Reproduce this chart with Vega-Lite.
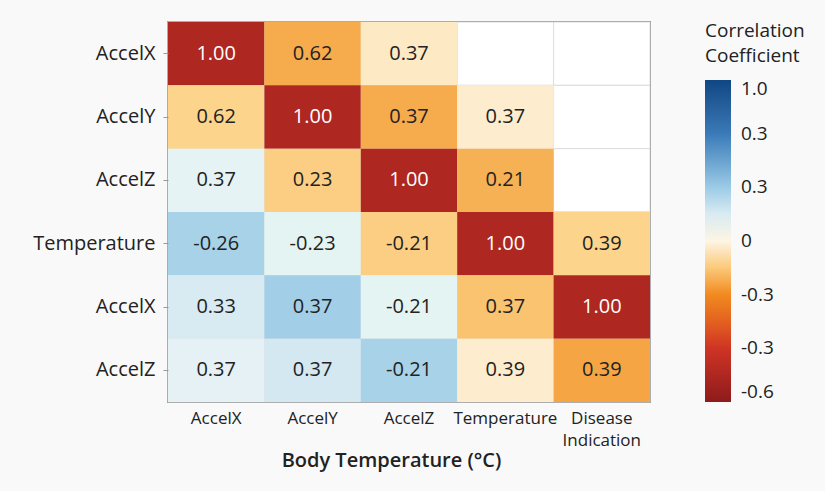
{
  "$schema": "https://vega.github.io/schema/vega-lite/v6.json",
  "width": 482,
  "height": 380,
  "autosize": {"type": "none"},
  "padding": {"left": 168, "top": 22, "right": 175, "bottom": 89},
  "background": "#f9f9fa",
  "config": {
    "font": "Open Sans",
    "view": {"stroke": "#555555", "strokeWidth": 1.5}
  },
  "data": {
    "values": [
      {"row": "1", "col": "AccelX", "label": "1.00", "c": 0.5},
      {"row": "1", "col": "AccelY", "label": "0.62", "c": 2.25},
      {"row": "1", "col": "AccelZ", "label": "0.37", "c": 2.85},
      {"row": "1", "col": "Temperature", "label": "", "c": null},
      {"row": "1", "col": "Disease Indication", "label": "", "c": null},
      {"row": "2", "col": "AccelX", "label": "0.62", "c": 2.6},
      {"row": "2", "col": "AccelY", "label": "1.00", "c": 0.5},
      {"row": "2", "col": "AccelZ", "label": "0.37", "c": 2.25},
      {"row": "2", "col": "Temperature", "label": "0.37", "c": 2.9},
      {"row": "2", "col": "Disease Indication", "label": "", "c": null},
      {"row": "3", "col": "AccelX", "label": "0.37", "c": 3.35},
      {"row": "3", "col": "AccelY", "label": "0.23", "c": 2.55},
      {"row": "3", "col": "AccelZ", "label": "1.00", "c": 0.5},
      {"row": "3", "col": "Temperature", "label": "0.21", "c": 2.3},
      {"row": "3", "col": "Disease Indication", "label": "", "c": null},
      {"row": "4", "col": "AccelX", "label": "-0.26", "c": 3.9},
      {"row": "4", "col": "AccelY", "label": "-0.23", "c": 3.3},
      {"row": "4", "col": "AccelZ", "label": "-0.21", "c": 2.55},
      {"row": "4", "col": "Temperature", "label": "1.00", "c": 0.5},
      {"row": "4", "col": "Disease Indication", "label": "0.39", "c": 2.6},
      {"row": "5", "col": "AccelX", "label": "0.33", "c": 3.5},
      {"row": "5", "col": "AccelY", "label": "0.37", "c": 3.95},
      {"row": "5", "col": "AccelZ", "label": "-0.21", "c": 3.3},
      {"row": "5", "col": "Temperature", "label": "0.37", "c": 2.45},
      {"row": "5", "col": "Disease Indication", "label": "1.00", "c": 0.5},
      {"row": "6", "col": "AccelX", "label": "0.37", "c": 3.4},
      {"row": "6", "col": "AccelY", "label": "0.37", "c": 3.55},
      {"row": "6", "col": "AccelZ", "label": "-0.21", "c": 3.9},
      {"row": "6", "col": "Temperature", "label": "0.39", "c": 2.9},
      {"row": "6", "col": "Disease Indication", "label": "0.39", "c": 2.2}
    ]
  },
  "encoding": {
    "x": {
      "field": "col",
      "type": "nominal",
      "sort": ["AccelX", "AccelY", "AccelZ", "Temperature", "Disease Indication"],
      "scale": {"paddingInner": 0, "paddingOuter": 0},
      "axis": {
        "title": "Body Temperature (°C)",
        "titleFontSize": 20,
        "titleFontWeight": 600,
        "titleColor": "#222222",
        "titleBaseline": "middle",
        "titleAlign": "center",
        "titleX": 223,
        "titleY": 58,
        "labelAngle": 0,
        "labelFontSize": 17,
        "labelColor": "#222222",
        "labelPadding": 8,
        "labelLineHeight": 22,
        "labelExpr": "datum.value == 'Disease Indication' ? ['Disease', 'Indication'] : datum.value",
        "ticks": false,
        "domain": false
      }
    },
    "y": {
      "field": "row",
      "type": "nominal",
      "sort": ["1", "2", "3", "4", "5", "6"],
      "scale": {"paddingInner": 0, "paddingOuter": 0},
      "axis": {
        "title": null,
        "labelFontSize": 20,
        "labelColor": "#222222",
        "labelPadding": 8,
        "tickSize": 5,
        "tickColor": "#999999",
        "domain": false,
        "labelExpr": "['AccelX','AccelY','AccelZ','Temperature','AccelX','AccelZ'][toNumber(datum.value) - 1]"
      }
    }
  },
  "layer": [
    {
      "mark": {"type": "rect", "fill": "#ffffff", "stroke": "#dddddd", "strokeWidth": 1}
    },
    {
      "transform": [{"filter": "datum.c != null"}],
      "mark": {"type": "rect"},
      "encoding": {
        "color": {
          "field": "c",
          "type": "quantitative",
          "scale": {
            "domain": [0, 1, 2, 2.6, 3, 3.4, 4, 5, 6],
            "range": ["#8e1b1b", "#cf3424", "#f28a1f", "#fdd48c", "#fdf5e4", "#e6f1f5", "#9ccbe6", "#3a7ab8", "#0f4783"]
          },
          "legend": {
            "title": ["Correlation", "Coefficient"],
            "orient": "none",
            "legendX": 537,
            "legendY": 0,
            "direction": "vertical",
            "gradientLength": 322,
            "gradientThickness": 26,
            "gradientStrokeColor": "#999999",
            "values": [0, 1, 2, 3, 4, 5, 6],
            "labelExpr": "['-0.6','-0.3','-0.3','0','0.3','0.3','1.0'][datum.value]",
            "labelFontSize": 19,
            "labelColor": "#222222",
            "labelOffset": 10,
            "titleFontSize": 19,
            "titleFontWeight": "normal",
            "titleColor": "#222222",
            "titleLineHeight": 25,
            "titleAnchor": "start",
            "titlePadding": 14
          }
        }
      }
    },
    {
      "transform": [{"filter": "datum.c != null"}],
      "mark": {"type": "text", "fontSize": 20},
      "encoding": {
        "text": {"field": "label"},
        "color": {
          "condition": {"test": "datum.c < 1", "value": "#ffffff"},
          "value": "#222222"
        }
      }
    }
  ]
}
